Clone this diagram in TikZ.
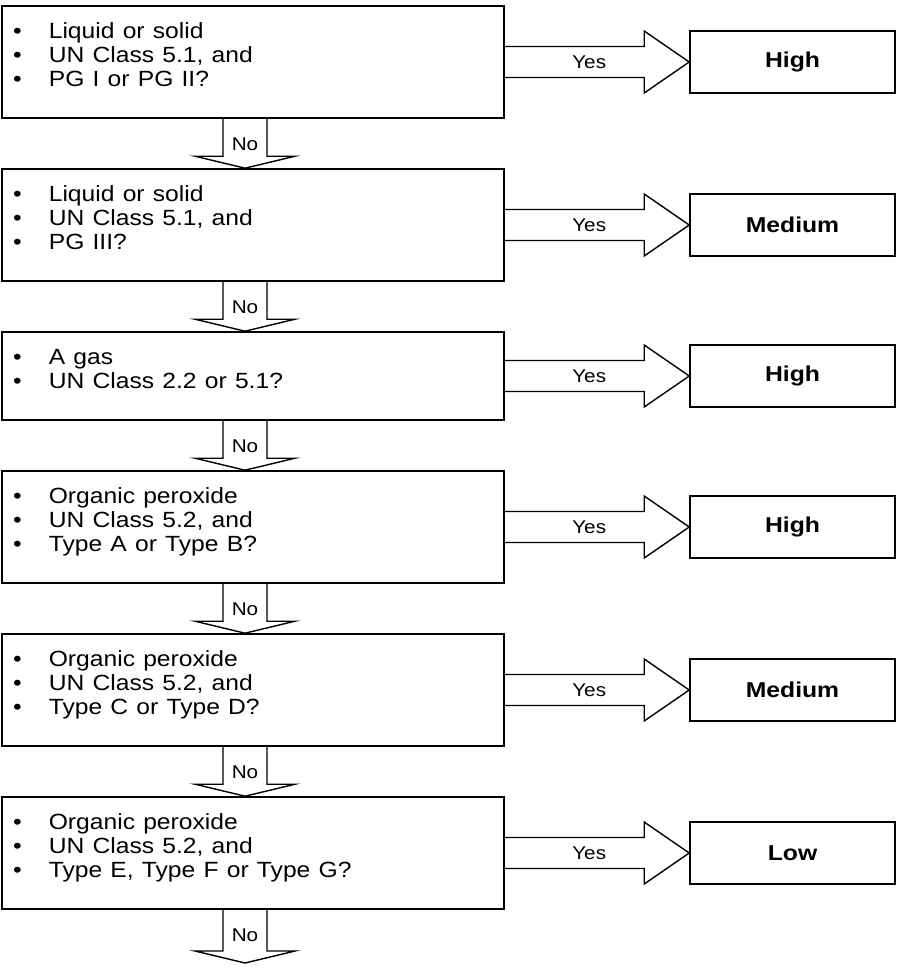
\documentclass[tikz,border=0pt]{standalone}
\usepackage{fontspec}
\setmainfont{Liberation Sans}
\usetikzlibrary{calc}
\newcommand{\qfont}{\fontsize{22}{24}\selectfont}
\newcommand{\lfont}{\fontsize{18.5}{20}\selectfont}
\newcommand{\rfont}{\fontsize{21.5}{24}\selectfont\bfseries}
\newcommand{\bl}{\makebox[32pt][l]{\textbullet}}
\newcommand{\qtext}[1]{\raisebox{4pt}[\height][\depth]{\scalebox{1.12}[1]{\begin{tabular}{@{}l@{}}#1\end{tabular}}}}
\newcommand{\yesarrow}[3]{%
  \draw[arrowline] ([yshift=15.5pt]#1.east) -- ([xshift=-45pt,yshift=15.5pt]#2.west)
    -- ([xshift=-45pt,yshift=31pt]#2.west) -- (#2.west)
    -- ([xshift=-45pt,yshift=-31pt]#2.west) -- ([xshift=-45pt,yshift=-15.5pt]#2.west)
    -- ([yshift=-15.5pt]#1.east);
  \node[lbl] (#3) at ([xshift=-100pt]#2.west) {\scalebox{1.12}[1]{Yes}};}
\newcommand{\noarrow}[3]{%
  \draw[arrowline] ([xshift=-30pt]#1.south) -- ([xshift=-30pt,yshift=12pt]#2)
    -- ([xshift=-58pt,yshift=12pt]#2) -- ([xshift=-8pt]#2)
    -- ([xshift=42pt,yshift=12pt]#2) -- ([xshift=14pt,yshift=12pt]#2)
    -- ([xshift=14pt]#1.south);
  \node[lbl] (#3) at ([xshift=-8pt,yshift=-25pt]#1.south) {\scalebox{1.12}[1]{No}};}
\tikzset{
  qbox/.style={draw, line width=1.6pt, text width=480pt, inner xsep=11pt, inner ysep=0pt,
    align=left, font=\qfont},
  rbox/.style={draw, line width=1.6pt, minimum width=205pt, minimum height=62pt, inner sep=0pt,
    font=\rfont},
  arrowline/.style={line width=1.4pt, line join=miter},
  lbl/.style={inner sep=0pt, font=\lfont}
}
\begin{document}
\begin{tikzpicture}[x=1pt,y=-1pt]
\useasboundingbox (0,0) rectangle (899,969);
\node[qbox, minimum height=112pt] (q1) at (253,62) {\qtext{\bl Liquid or solid\\ \bl UN Class 5.1, and\\ \bl PG I or PG II?}};
\node[qbox, minimum height=112pt] (q2) at (253,225) {\qtext{\bl Liquid or solid\\ \bl UN Class 5.1, and\\ \bl PG III?}};
\node[qbox, minimum height=88pt] (q3) at (253,376) {\qtext{\bl A gas\\ \bl UN Class 2.2 or 5.1?}};
\node[qbox, minimum height=112pt] (q4) at (253,527) {\qtext{\bl Organic peroxide\\ \bl UN Class 5.2, and\\ \bl Type A or Type B?}};
\node[qbox, minimum height=112pt] (q5) at (253,690) {\qtext{\bl Organic peroxide\\ \bl UN Class 5.2, and\\ \bl Type C or Type D?}};
\node[qbox, minimum height=112pt] (q6) at (253,853) {\qtext{\bl Organic peroxide\\ \bl UN Class 5.2, and\\ \bl Type E, Type F or Type G?}};
\node[rbox] (r1) at (792.5,62) {\scalebox{1.15}[1]{High}};
\node[rbox] (r2) at (792.5,225) {\scalebox{1.15}[1]{Medium}};
\node[rbox] (r3) at (792.5,376) {\scalebox{1.15}[1]{High}};
\node[rbox] (r4) at (792.5,527) {\scalebox{1.15}[1]{High}};
\node[rbox] (r5) at (792.5,690) {\scalebox{1.15}[1]{Medium}};
\node[rbox] (r6) at (792.5,853) {\scalebox{1.15}[1]{Low}};
\yesarrow{q1}{r1}{y1}
\yesarrow{q2}{r2}{y2}
\yesarrow{q3}{r3}{y3}
\yesarrow{q4}{r4}{y4}
\yesarrow{q5}{r5}{y5}
\yesarrow{q6}{r6}{y6}
\coordinate (end) at (253,963);
\noarrow{q1}{q2.north}{n1}
\noarrow{q2}{q3.north}{n2}
\noarrow{q3}{q4.north}{n3}
\noarrow{q4}{q5.north}{n4}
\noarrow{q5}{q6.north}{n5}
\noarrow{q6}{end}{n6}
\end{tikzpicture}
\end{document}
